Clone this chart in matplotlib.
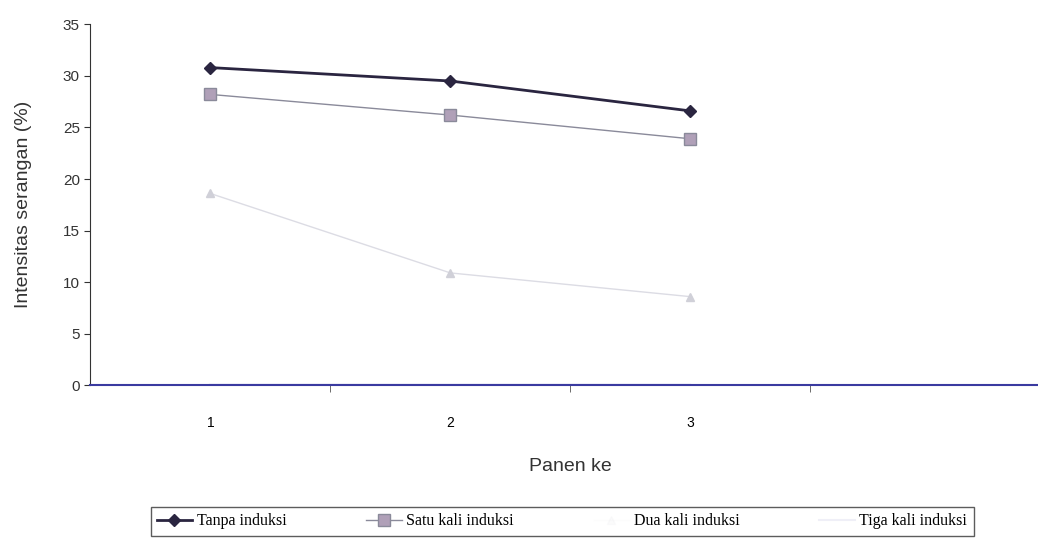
import numpy as np
import matplotlib.pyplot as plt
from matplotlib.ticker import FixedLocator

panen = [1, 2, 3]
tick_labels = ["1", "2", "3"]
tanpa = [30.8, 29.5, 26.6]
satu = [28.2, 26.2, 23.9]
dua = [18.6, 10.9, 8.6]
tiga = [0.0, 0.0, 0.0]
labels = ["Tanpa induksi", "Satu kali induksi", "Dua kali induksi", "Tiga kali induksi"]

plt.rcParams['font.family'] = ['Liberation Sans', 'DejaVu Sans']

fig = plt.figure(figsize=(10.38, 5.39), dpi=100)
ax = fig.add_axes([0.087, 0.285, 0.925, 0.67])

ax.plot(panen, tanpa, color="#2a2540", lw=2.0, marker="D", ms=6,
        mfc="#2a2540", mec="#2a2540", label=labels[0])
ax.plot(panen, satu, color="#8a8a9a", lw=1.0, marker="s", ms=9,
        mfc="#b0a0b8", mec="#8a8a9a", label=labels[1])
ax.plot(panen, dua, color="#dcdce4", lw=1.0, marker="^", ms=6,
        mfc="#d0d0d8", mec="#d0d0d8", label=labels[2])
ax.plot(panen, tiga, color="#3a3aa0", lw=1.5, label=labels[3])

ax.set_xlim(0.5, 4.5)
ax.set_ylim(0, 35)
ax.set_yticks(np.arange(0, 36, 5))
ax.set_xticks(panen)
ax.set_xticklabels(tick_labels, fontsize=10)
ax.xaxis.set_minor_locator(FixedLocator([1.5, 2.5, 3.5]))
ax.tick_params(axis="x", which="major", length=0, pad=22)
ax.tick_params(axis="x", which="minor", length=5, color="#555555")
ax.tick_params(axis="y", length=4, labelsize=11, colors="#333333", direction="out")

for s in ["top", "right"]:
    ax.spines[s].set_visible(False)
ax.spines["left"].set_color("#333333")
ax.spines["bottom"].set_color("#3a3aa0")
ax.spines["bottom"].set_linewidth(1.5)

ax.set_ylabel("Intensitas serangan (%)", fontsize=14, color="#333333", labelpad=22)
ax.set_xlabel("Panen ke", fontsize=14, color="#333333", labelpad=20)

leg = fig.legend(loc="lower left", bbox_to_anchor=(0.145, 0.006), ncol=4,
                 frameon=True, fancybox=False, edgecolor="#333333",
                 prop={"family": "Liberation Serif", "size": 11.5},
                 columnspacing=5.0, handlelength=2.2, handletextpad=0.3,
                 borderpad=0.4, borderaxespad=0.0)
leg.get_frame().set_linewidth(1.0)
for h in leg.legend_handles[2:]:
    h.set_alpha(0.08)

fig.savefig("out.png", dpi=100)
